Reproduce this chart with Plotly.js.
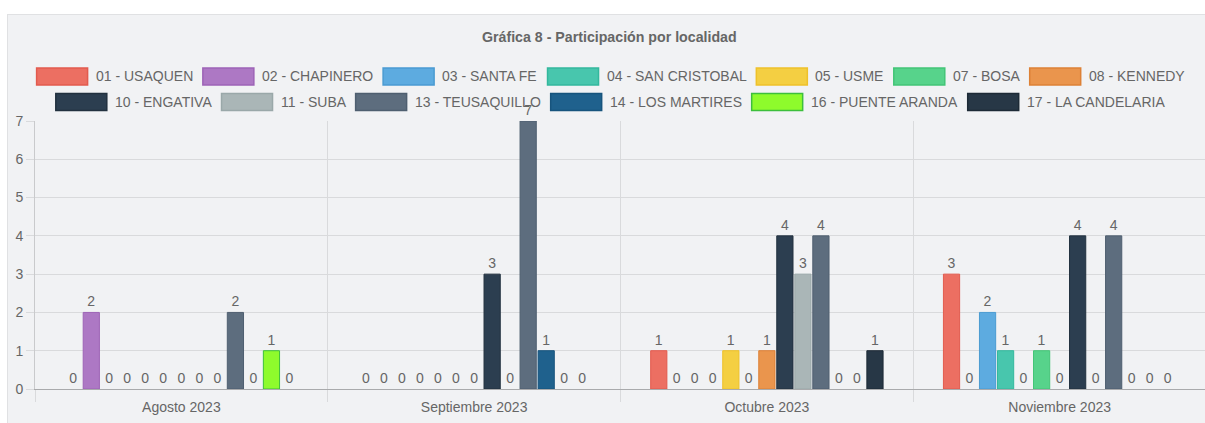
<!DOCTYPE html>
<html>
<head>
<meta charset="utf-8">
<script src="https://cdn.plot.ly/plotly-3.0.1.min.js"></script>
<style>
  html, body { margin: 0; padding: 0; background: #ffffff; width: 1205px; height: 423px; overflow: hidden; }
  #panel { position: absolute; left: 7px; top: 14px; width: 1198px; height: 409px; border-top: 1px solid #e0e1e3; border-left: 1px solid #e0e1e3; background: #f1f2f4; }
  #chart { position: absolute; left: 0; top: 0; width: 1198px; height: 409px; }
</style>
</head>
<body>
<div id="panel"><div id="chart"></div></div>
<script>
// ---- data ----
const categories = ["Agosto 2023", "Septiembre 2023", "Octubre 2023", "Noviembre 2023"];
const seriesNames = [
  "01 - USAQUEN", "02 - CHAPINERO", "03 - SANTA FE", "04 - SAN CRISTOBAL", "05 - USME",
  "07 - BOSA", "08 - KENNEDY", "10 - ENGATIVA", "11 - SUBA", "13 - TEUSAQUILLO",
  "14 - LOS MARTIRES", "16 - PUENTE ARANDA", "17 - LA CANDELARIA"
];
const usaquen      = [0, 0, 1, 3];
const chapinero    = [2, 0, 0, 0];
const santaFe      = [0, 0, 0, 2];
const sanCristobal = [0, 0, 0, 1];
const usme         = [0, 0, 1, 0];
const bosa         = [0, 0, 0, 1];
const kennedy      = [0, 0, 1, 0];
const engativa     = [0, 3, 4, 4];
const suba         = [0, 0, 3, 0];
const teusaquillo  = [2, 7, 4, 4];
const losMartires  = [0, 1, 0, 0];
const puenteAranda = [1, 0, 0, 0];
const laCandelaria = [0, 0, 1, 0];
const seriesValues = [usaquen, chapinero, santaFe, sanCristobal, usme, bosa, kennedy,
  engativa, suba, teusaquillo, losMartires, puenteAranda, laCandelaria];
const yTicks = [0, 1, 2, 3, 4, 5, 6, 7];

// ---- styles ----
const fills = ["#ec6f62", "#ad78c4", "#5dabe0", "#48c6ad", "#f4cf42", "#57d38b", "#ea954d",
  "#2c3e50", "#aab6b7", "#5d6d7e", "#1f618d", "#8efb2c", "#273746"];
const borders = ["#e25b4e", "#9d63b6", "#4a9bd2", "#33b89d", "#eec12a", "#43c577", "#dd8136",
  "#22313f", "#9aa8a9", "#4f5f70", "#17547d", "#3cbf3c", "#1d2a36"];

const W = 1198, H = 409;
const M = { l: 27, r: 0, t: 106, b: 35 };
const PW = W - M.l - M.r, PH = H - M.t - M.b;
const px2x = p => (p - M.l) / PW;
const py2y = p => (H - M.b - p) / PH;

const traces = seriesNames.map((name, i) => ({
  type: 'bar',
  name: name,
  x: categories,
  y: seriesValues[i],
  marker: {
    color: fills[i],
    line: { color: borders[i], width: seriesValues[i].map(v => v > 0 ? 1 : 0) }
  },
  text: seriesValues[i].map(String),
  textposition: 'outside',
  textfont: { family: 'Liberation Sans, Arial, sans-serif', size: 14, color: '#666666' },
  constraintext: 'none',
  cliponaxis: false,
  showlegend: false,
  hoverinfo: 'x+y+name'
}));

// ---- custom legend (Chart.js style boxes) ----
const cnv = document.createElement('canvas').getContext('2d');
cnv.font = "14px 'Liberation Sans', Arial, sans-serif";
const boxW = 51, boxH = 17, gapTxt = 6, gapItem = 12;
const rows = [seriesNames.slice(0, 7), seriesNames.slice(7)];
const rowCenterY = [61.5, 87];     // px within chart div
const centerX = 601.5;             // px within chart div
const shapes = [], annotations = [];
let idx = 0;
rows.forEach((row, r) => {
  const widths = row.map(t => cnv.measureText(t).width);
  const total = widths.reduce((a, w) => a + boxW + gapTxt + w, 0) + gapItem * (row.length - 1);
  let x = centerX - total / 2;
  const cy = rowCenterY[r];
  row.forEach((t, j) => {
    const k = idx++;
    shapes.push({
      type: 'rect', xref: 'paper', yref: 'paper', layer: 'above',
      x0: px2x(x), x1: px2x(x + boxW), y0: py2y(cy + boxH / 2), y1: py2y(cy - boxH / 2),
      fillcolor: fills[k], line: { color: borders[k], width: 1.5 }
    });
    annotations.push({
      xref: 'paper', yref: 'paper', x: px2x(x + boxW + gapTxt), y: py2y(cy),
      xanchor: 'left', yanchor: 'middle', showarrow: false, text: t,
      font: { family: 'Liberation Sans, Arial, sans-serif', size: 14, color: '#666666' }
    });
    x += boxW + gapTxt + widths[j] + gapItem;
  });
});

// title
annotations.push({
  xref: 'paper', yref: 'paper', x: px2x(601), y: py2y(22), xanchor: 'center', yanchor: 'middle',
  showarrow: false, text: '<b>Gráfica 8 - Participación por localidad</b>',
  font: { family: 'Liberation Sans, Arial, sans-serif', size: 14.2, color: '#666666' }
});

const layout = {
  width: W, height: H,
  margin: M,
  paper_bgcolor: 'rgba(0,0,0,0)',
  plot_bgcolor: 'rgba(0,0,0,0)',
  barmode: 'group',
  bargap: 0.2,
  bargroupgap: 0.1,
  showlegend: false,
  font: { family: 'Liberation Sans, Arial, sans-serif', size: 14, color: '#666666' },
  xaxis: {
    type: 'category',
    tickson: 'boundaries',
    showgrid: true, gridcolor: '#d9dadc', gridwidth: 1,
    ticks: 'outside', ticklen: 12, tickcolor: '#d9dadc',
    ticklabelstandoff: 5,
    showline: true, linecolor: '#a9aaac', linewidth: 1,
    tickfont: { size: 14, color: '#666666' },
    fixedrange: true
  },
  yaxis: {
    range: [0, 7],
    tickvals: yTicks,
    showgrid: true, gridcolor: '#d9dadc', gridwidth: 1,
    zeroline: false,
    ticks: 'outside', ticklen: 8, tickcolor: '#d9dadc',
    showline: true, linecolor: '#c9cacc', linewidth: 1,
    tickfont: { size: 14, color: '#666666' },
    fixedrange: true
  },
  shapes: shapes,
  annotations: annotations
};

Plotly.newPlot('chart', traces, layout, { displayModeBar: false, staticPlot: true });
</script>
</body>
</html>
